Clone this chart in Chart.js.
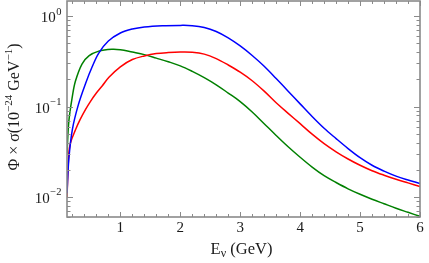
<!DOCTYPE html>
<html><head><meta charset="utf-8">
<script src="https://cdn.jsdelivr.net/npm/chart.js@4/dist/chart.umd.min.js"></script>
<style>html,body{margin:0;padding:0;background:#fff}#wrap{width:429px;height:263px}</style>
</head><body><div id="wrap"><canvas id="c" width="429" height="263"></canvas></div>
<script>
// Energies (GeV) and flux x cross-section values (10^-24 GeV^-1)
const energyBlue = [0.11,0.14,0.2,0.3,0.42,0.53,0.64,0.8,1.0,1.2,1.4,1.7,2.0,2.2,2.4,2.6,2.8,3.0,3.2,3.4,3.6,3.8,4.0,4.2,4.4,4.6,4.8,5.0,5.2,5.4,5.6,5.8,6.0];
const valuesBlue = [0.011,0.026,0.056,0.105,0.18,0.275,0.39,0.53,0.65,0.72,0.76,0.785,0.79,0.785,0.75,0.676,0.575,0.468,0.367,0.279,0.204,0.148,0.107,0.0776,0.0575,0.0442,0.0343,0.0272,0.0224,0.0193,0.017,0.0154,0.0141];

const energyRed = [0.11,0.14,0.17,0.25,0.33,0.42,0.5,0.6,0.7,0.81,1.0,1.2,1.4,1.6,1.8,2.0,2.2,2.4,2.6,2.8,3.0,3.2,3.4,3.6,3.8,4.0,4.2,4.4,4.6,4.8,5.0,5.2,5.4,5.6,5.8,6.0];
const valuesRed = [0.01,0.03,0.04,0.055,0.072,0.093,0.1135,0.141,0.17,0.211,0.275,0.331,0.363,0.385,0.395,0.40,0.398,0.38,0.339,0.288,0.24,0.193,0.148,0.11,0.0841,0.0646,0.0495,0.0389,0.0316,0.0263,0.0224,0.0195,0.0174,0.0157,0.0143,0.013];

const energyGreen = [0.11,0.14,0.2,0.25,0.36,0.48,0.64,0.86,1.0,1.2,1.4,1.6,1.8,2.0,2.2,2.4,2.6,2.8,3.0,3.2,3.4,3.6,3.8,4.0,4.2,4.4,4.6,4.8,5.0,5.2,5.4,5.6,5.8,6.0];
const valuesGreen = [0.03,0.068,0.13,0.19,0.295,0.365,0.41,0.43,0.425,0.40,0.375,0.343,0.313,0.282,0.245,0.209,0.174,0.141,0.1135,0.0871,0.0646,0.0479,0.0359,0.0275,0.0214,0.0172,0.01445,0.0123,0.0107,0.00944,0.00841,0.0075,0.00676,0.0061];

const xTickValues = [1,2,3,4,5,6];
const xTickLabels = ['1','2','3','4','5','6'];
const yTickValues = [0.01,0.1,1];
const yTickExponents = ['\u22122','\u22121','0'];

const toPts = (xs, ys) => xs.map((e,i) => ({x:e, y:ys[i]}));

const SERIF = '"Liberation Serif","DejaVu Serif",serif';
const frameColor = '#8a8a8a';

const decor = {
  id: 'decor',
  afterDraw(chart) {
    const {ctx, chartArea: a, scales: {x, y}} = chart;
    ctx.save();
    ctx.strokeStyle = frameColor;
    ctx.lineWidth = 1;
    for (let k = 1; k <= 30; k++) {
      const v = k * 0.2;
      if (v < x.min || v > x.max + 1e-9) continue;
      const major = Math.abs(v - Math.round(v)) < 1e-6;
      const len = major ? 5 : 3;
      const px = Math.round(x.getPixelForValue(v)) + 0.5;
      ctx.beginPath();
      ctx.moveTo(px, a.bottom); ctx.lineTo(px, a.bottom - len);
      ctx.moveTo(px, a.top); ctx.lineTo(px, a.top + len);
      ctx.stroke();
    }
    for (let e = -3; e <= 0; e++) {
      for (let m = 1; m <= 9; m++) {
        const v = m * Math.pow(10, e);
        if (v < y.min || v > y.max) continue;
        const len = m === 1 ? 6 : 3.5;
        const py = Math.round(y.getPixelForValue(v)) + 0.5;
        ctx.beginPath();
        ctx.moveTo(a.left, py); ctx.lineTo(a.left + len, py);
        ctx.moveTo(a.right, py); ctx.lineTo(a.right - len, py);
        ctx.stroke();
      }
    }
    ctx.lineWidth = 1.6;
    ctx.strokeRect(a.left, a.top, a.right - a.left, a.bottom - a.top);

    ctx.fillStyle = '#1a1a1a';
    ctx.font = '15px ' + SERIF;
    ctx.textAlign = 'center';
    ctx.textBaseline = 'alphabetic';
    xTickValues.forEach((v, i) => {
      ctx.fillText(xTickLabels[i], x.getPixelForValue(v), 231.5);
    });
    yTickValues.forEach((v, i) => {
      const py = y.getPixelForValue(v);
      ctx.font = '10.5px ' + SERIF;
      const supW = ctx.measureText(yTickExponents[i]).width;
      const right = 61.5;
      ctx.textAlign = 'left';
      ctx.fillText(yTickExponents[i], right - supW, py - 1.5);
      ctx.font = '15px ' + SERIF;
      ctx.textAlign = 'right';
      ctx.fillText('10', right - supW - 0.5, py + 6);
    });

    drawRun(ctx, [
      {t: 'E', f: 16.5, dy: 0},
      {t: '\u03BD', f: 12, dy: 3},
      {t: ' (GeV)', f: 16.5, dy: 0}
    ], (a.left + a.right) / 2 - 2, 254);

    ctx.save();
    ctx.translate(18.5, 107);
    ctx.rotate(-Math.PI / 2);
    drawRun(ctx, [
      {t: '\u03A6 \u00D7 \u03C3(10', f: 16, dy: 0},
      {t: '\u221224', f: 11, dy: -6.5},
      {t: ' GeV', f: 16, dy: 0},
      {t: '\u22121', f: 11, dy: -6.5},
      {t: ')', f: 16, dy: 0}
    ], 0, 0);
    ctx.restore();
    ctx.restore();
  }
};

function drawRun(ctx, parts, cx, base) {
  let total = 0;
  parts.forEach(p => { ctx.font = p.f + 'px ' + SERIF; p.w = ctx.measureText(p.t).width; total += p.w; });
  let xx = cx - total / 2;
  ctx.textAlign = 'left';
  ctx.textBaseline = 'alphabetic';
  parts.forEach(p => { ctx.font = p.f + 'px ' + SERIF; ctx.fillText(p.t, xx, base + p.dy); xx += p.w; });
}

const ds = (label, xs, ys, color) => ({
  label, data: toPts(xs, ys), borderColor: color, backgroundColor: color,
  borderWidth: 1.5, pointRadius: 0, fill: false, tension: 0.35
});

new Chart(document.getElementById('c'), {
  type: 'line',
  data: {
    datasets: [
      ds('blue', energyBlue, valuesBlue, '#0000ff'),
      ds('red', energyRed, valuesRed, '#ff0000'),
      ds('green', energyGreen, valuesGreen, '#008000')
    ]
  },
  options: {
    responsive: false,
    animation: false,
    layout: {padding: {top: 1, right: 9, left: 0, bottom: 0}},
    plugins: {legend: {display: false}, tooltip: {enabled: false}},
    scales: {
      x: {
        type: 'linear', min: 0.11, max: 6.0,
        grid: {display: false}, border: {display: false},
        ticks: {display: false},
        afterFit: s => { s.height = 46; }
      },
      y: {
        type: 'logarithmic', min: 0.006, max: 1.47,
        grid: {display: false}, border: {display: false},
        ticks: {display: false},
        afterFit: s => { s.width = 67; }
      }
    }
  },
  plugins: [decor]
});
</script>
</body></html>
